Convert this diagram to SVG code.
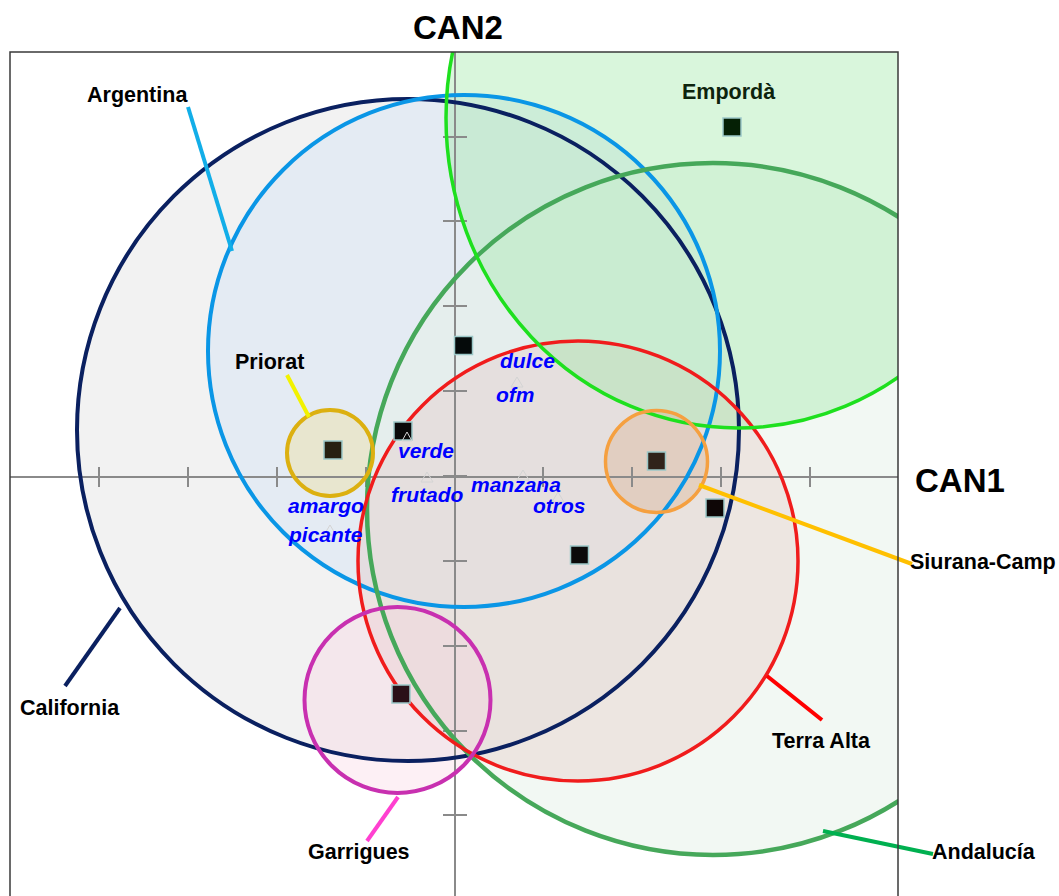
<svg xmlns="http://www.w3.org/2000/svg" width="1059" height="896" viewBox="0 0 1059 896">
<defs>
<clipPath id="frameClip"><rect x="10" y="52" width="888" height="860"/></clipPath>
<style>
.lbl{font-family:"Liberation Sans",Arial,sans-serif;font-weight:bold;font-size:21.5px;fill:#000}
.axl{font-family:"Liberation Sans",Arial,sans-serif;font-weight:bold;font-size:33px;fill:#000}
.var{font-family:"Liberation Sans",Arial,sans-serif;font-weight:bold;font-style:italic;font-size:21px;fill:#0000ff}
.axis{stroke:#8a8a8a;stroke-width:2;fill:none}
.ring{fill:none}
.sq{stroke:#9cc8c8;stroke-width:1.5}
.tri{fill:none;stroke:#d4d4d4;stroke-width:1}
.lead{stroke-width:4;fill:none}
</style>
</defs>
<rect width="1059" height="896" fill="#fff"/>

<g id="region-fills">
<circle cx="408" cy="430" r="331" fill="#f2f2f2"/>
<circle cx="464" cy="351" r="256" fill="#d6e4f4" fill-opacity="0.5"/>
<circle cx="713" cy="509" r="346" fill="#e6f1e8" fill-opacity="0.5" clip-path="url(#frameClip)"/>
<circle cx="578" cy="561" r="220" fill="#e6c8c4" fill-opacity="0.38"/>
<ellipse cx="738" cy="118" rx="292" ry="310" fill="#a0e8a8" fill-opacity="0.4" clip-path="url(#frameClip)"/>
<circle cx="397.5" cy="700" r="93" fill="#f8cdde" fill-opacity="0.3"/>
<circle cx="330" cy="453" r="43" fill="#eede99" fill-opacity="0.4"/>
<circle cx="656.5" cy="461.5" r="51" fill="#d9b08c" fill-opacity="0.35"/>
</g>

<g id="axes">
<line class="axis" x1="10" y1="477" x2="898" y2="477"/>
<line class="axis" x1="455" y1="52" x2="455" y2="896"/>
<path class="axis" d="M99 467V487M188 467V487M277 467V487M366 467V487M455 467V487M543 467V487M632 467V487M721 467V487M810 467V487"/>
<path class="axis" d="M443 137H467M443 221H467M443 306H467M443 391H467M443 476H467M443 561H467M443 646H467M443 731H467M443 815H467"/>
</g>

<g id="california"><circle class="ring" cx="408" cy="430" r="331" stroke="#0a2060" stroke-width="4"/></g>
<g id="argentina"><circle class="ring" cx="464" cy="351" r="256" stroke="#0a96e6" stroke-width="4"/></g>
<g id="andalucia" clip-path="url(#frameClip)"><circle class="ring" cx="713" cy="509" r="346" stroke="#46a85a" stroke-width="4.5"/></g>
<g id="terra-alta"><circle class="ring" cx="578" cy="561" r="220" stroke="#f01c1c" stroke-width="3.5"/></g>
<g id="emporda" clip-path="url(#frameClip)"><ellipse class="ring" cx="738" cy="118" rx="292" ry="310" stroke="#1ee01e" stroke-width="3.5"/></g>
<g id="garrigues"><circle class="ring" cx="397.5" cy="700" r="93" stroke="#c830b0" stroke-width="4"/></g>
<g id="priorat"><circle class="ring" cx="330" cy="453" r="43" stroke="#dcb010" stroke-width="4"/></g>
<g id="siurana-camp"><circle class="ring" cx="656.5" cy="461.5" r="51" stroke="#f5a040" stroke-width="3.5"/></g>

<g id="connectors">
<line class="lead" x1="188" y1="107" x2="232" y2="251" stroke="#12aee8" stroke-width="3.5"/>
<line class="lead" x1="287" y1="375" x2="309" y2="417" stroke="#f2f200"/>
<line class="lead" x1="699" y1="485" x2="912" y2="564" stroke="#ffc000"/>
<line class="lead" x1="120" y1="608" x2="65" y2="686" stroke="#0a2060" stroke-width="3.5"/>
<line class="lead" x1="398" y1="797" x2="367" y2="841" stroke="#ff40d0"/>
<line class="lead" x1="767" y1="676" x2="822" y2="720" stroke="#ff0000"/>
<line class="lead" x1="823" y1="831" x2="933" y2="854" stroke="#00b050"/>
</g>

<g id="points">
<rect class="sq" x="723" y="118" width="18" height="18" fill="#052005"/>
<rect class="sq" x="454.5" y="336.5" width="18" height="18" fill="#050a0a"/>
<rect class="sq" x="394" y="422" width="18" height="18" fill="#0a0a0a"/>
<rect class="sq" x="324" y="441" width="18" height="18" fill="#272010"/>
<rect class="sq" x="647.5" y="452" width="18" height="18" fill="#30231a"/>
<rect class="sq" x="706" y="499" width="18" height="18" fill="#0e0606"/>
<rect class="sq" x="570.5" y="546" width="18" height="18" fill="#0a0a0a"/>
<rect class="sq" x="392" y="685" width="18" height="18" fill="#2a1018"/>
</g>

<g id="variable-markers">
<path class="tri" d="M407 432l-5 9h10z" stroke="#e8e8e8"/>
<path class="tri" d="M427 472l-6 10h12z"/>
<path class="tri" d="M517 377l-6 10h12z"/>
<path class="tri" d="M523 470l-6 10h12z"/>
<path class="tri" d="M558 492l-6 10h12z"/>
<path class="tri" d="M330 525l-6 10h12z"/>
</g>

<g id="labels">
<text class="axl" x="413" y="39">CAN2</text>
<text class="axl" x="915" y="492">CAN1</text>
<text class="lbl" x="87" y="102">Argentina</text>
<text class="lbl" x="682" y="99" style="fill:#0d230d">Empordà</text>
<text class="lbl" x="235" y="369">Priorat</text>
<text class="lbl" x="910" y="569">Siurana-Camp</text>
<text class="lbl" x="20" y="715">California</text>
<text class="lbl" x="308" y="859">Garrigues</text>
<text class="lbl" x="772" y="748">Terra Alta</text>
<text class="lbl" x="932" y="859">Andalucía</text>
<text class="var" x="500" y="368">dulce</text>
<text class="var" x="496" y="402">ofm</text>
<text class="var" x="398" y="458">verde</text>
<text class="var" x="391" y="502">frutado</text>
<text class="var" x="471" y="492">manzana</text>
<text class="var" x="533" y="513">otros</text>
<text class="var" x="288" y="513">amargo</text>
<text class="var" x="289" y="542">picante</text>
</g>

<rect id="frame" x="10" y="52" width="888" height="900" fill="none" stroke="#3a3a3a" stroke-width="1.5"/>
</svg>
